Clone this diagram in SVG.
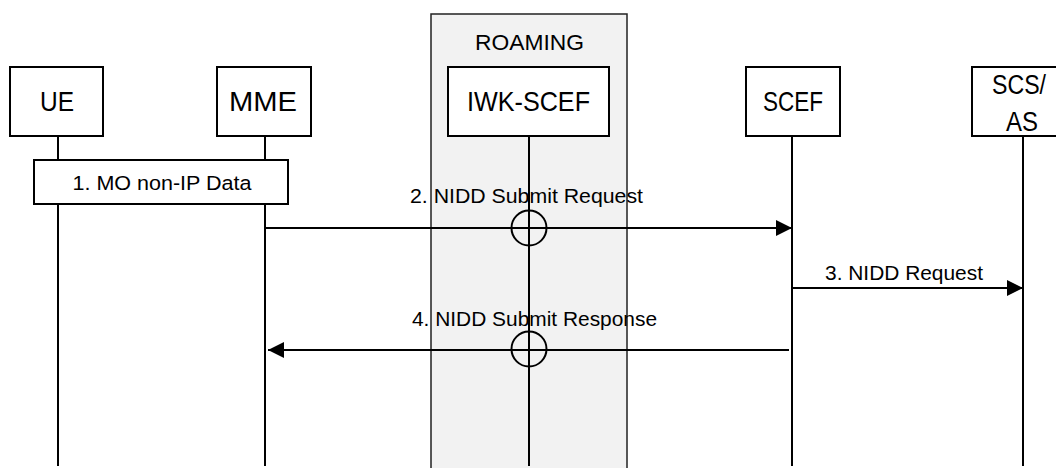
<svg xmlns="http://www.w3.org/2000/svg" width="1056" height="468" viewBox="0 0 1056 468">
<defs>
<style>
.box{fill:#fff;stroke:#000;stroke-width:2}
.life{stroke:#000;stroke-width:2;fill:none}
.msg{stroke:#000;stroke-width:2;fill:none}
.nl{font-family:"Liberation Sans",Arial,sans-serif;font-size:28px;fill:#000;text-anchor:middle}
.ml{font-family:"Liberation Sans",Arial,sans-serif;font-size:20.5px;fill:#000;text-anchor:middle}
.ring{fill:none;stroke:#000;stroke-width:2}
</style>
<marker id="ah" viewBox="0 0 16 16" refX="16" refY="8" markerWidth="16" markerHeight="16" markerUnits="userSpaceOnUse" orient="auto">
<path d="M0,0 L16,8 L0,16 Z" fill="#000"/>
</marker>
</defs>
<rect width="1056" height="468" fill="#fff"/>
<g id="roaming">
<rect x="431" y="14" width="196" height="460" fill="#f2f2f2" stroke="#222" stroke-width="1.5"/>
<text x="529.5" y="50" class="nl" style="font-size:22.5px" textLength="109" lengthAdjust="spacingAndGlyphs">ROAMING</text>
</g>
<g id="lifelines">
<line class="life" x1="58" y1="136" x2="58" y2="466"/>
<line class="life" x1="265" y1="136" x2="265" y2="466"/>
<line class="life" x1="529" y1="136" x2="529" y2="466"/>
<line class="life" x1="792" y1="136" x2="792" y2="466"/>
<line class="life" x1="1023" y1="136" x2="1023" y2="466"/>
</g>
<g id="ue">
<rect class="box" x="10" y="67" width="93" height="69"/>
<text class="nl" x="57" y="111" textLength="34" lengthAdjust="spacingAndGlyphs">UE</text>
</g>
<g id="mme">
<rect class="box" x="217" y="67" width="94" height="69"/>
<text class="nl" x="263" y="111" textLength="68" lengthAdjust="spacingAndGlyphs">MME</text>
</g>
<g id="iwk-scef">
<rect class="box" x="448" y="67" width="161" height="69"/>
<text class="nl" x="528.5" y="111" textLength="123" lengthAdjust="spacingAndGlyphs">IWK-SCEF</text>
</g>
<g id="scef">
<rect class="box" x="746" y="67" width="94" height="69"/>
<text class="nl" x="793" y="111" textLength="60" lengthAdjust="spacingAndGlyphs">SCEF</text>
</g>
<g id="scs-as">
<rect x="972" y="67" width="84" height="69" fill="#fff"/>
<path d="M1056,67 H972 V136 H1056" fill="none" stroke="#000" stroke-width="2"/>
<text class="nl" x="1019" y="94" style="font-size:27px" textLength="54" lengthAdjust="spacingAndGlyphs">SCS/</text>
<text class="nl" x="1022" y="131" style="font-size:27px" textLength="32" lengthAdjust="spacingAndGlyphs">AS</text>
</g>
<g id="step1">
<rect class="box" x="34" y="160" width="254" height="44"/>
<text class="ml" x="162" y="190" textLength="179" lengthAdjust="spacingAndGlyphs">1. MO non-IP Data</text>
</g>
<g id="connectors">
<line class="msg" x1="265" y1="228" x2="792" y2="228" marker-end="url(#ah)"/>
<line class="msg" x1="792" y1="288" x2="1023" y2="288" marker-end="url(#ah)"/>
<line class="msg" x1="789" y1="350" x2="268" y2="350" marker-end="url(#ah)"/>
<circle class="ring" cx="529" cy="228" r="17.5"/>
<circle class="ring" cx="529" cy="349" r="17.5"/>
<text class="ml" x="526.5" y="203" textLength="233" lengthAdjust="spacingAndGlyphs">2. NIDD Submit Request</text>
<text class="ml" x="904" y="280" textLength="158" lengthAdjust="spacingAndGlyphs">3. NIDD Request</text>
<text class="ml" x="534.5" y="326" textLength="245" lengthAdjust="spacingAndGlyphs">4. NIDD Submit Response</text>
</g>
</svg>
